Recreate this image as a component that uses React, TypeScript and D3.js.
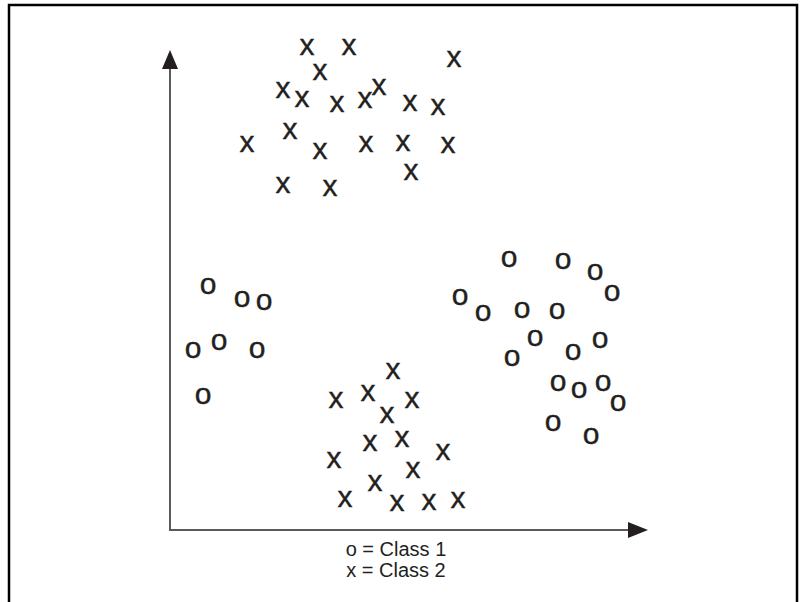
import React, { useEffect, useRef } from "react";
import * as d3 from "d3";

// feature space units (0..480 on both axes)
const class1Points: [number, number][] = [
  [38, 244], [72, 231], [94, 228], [23, 180], [49, 188], [87, 180], [33, 134],
  [339, 271], [393, 269], [425, 258], [442, 237], [290, 233], [313, 217],
  [352, 220], [387, 219], [365, 192], [430, 190], [342, 172], [403, 178],
  [388, 147], [409, 140], [433, 147], [448, 127], [383, 107], [421, 94],
];

const class2Points: [number, number][] = [
  [137, 483], [179, 483], [284, 471], [150, 458], [113, 440], [132, 431],
  [167, 426], [195, 430], [209, 443], [240, 427], [268, 423], [77, 386],
  [120, 399], [150, 379], [196, 386], [233, 387], [278, 385], [241, 358],
  [113, 345], [160, 342],
  [223, 159], [166, 130], [198, 137], [242, 130], [217, 115], [200, 87],
  [232, 91], [273, 78], [164, 70], [243, 60], [205, 47], [175, 31],
  [227, 27], [259, 28], [288, 30],
];

const classes = [
  { symbol: "o", name: "Class 1", points: class1Points },
  { symbol: "x", name: "Class 2", points: class2Points },
];

const App = () => {
  const ref = useRef<SVGSVGElement>(null);

  useEffect(() => {
    if (!ref.current) return;
    const width = 801, height = 602;
    const ink = "#231f20";
    const font = "'Liberation Sans', Arial, Helvetica, sans-serif";
    const markSize = 30;

    const svg = d3.select(ref.current)
      .attr("width", width)
      .attr("height", height);
    svg.selectAll("*").remove();

    const x = d3.scaleLinear().domain([0, 480]).range([170, 650]);
    const y = d3.scaleLinear().domain([0, 480]).range([530, 50]);

    // open frame (no bottom edge)
    svg.append("path")
      .attr("d", `M9,${height} V5 H797 V${height}`)
      .attr("fill", "none")
      .attr("stroke", "#000")
      .attr("stroke-width", 2.5);

    // axes
    svg.append("line")
      .attr("x1", x(0)).attr("x2", x(0))
      .attr("y1", y(0)).attr("y2", y(480) + 18)
      .attr("stroke", "#5a5a5a").attr("stroke-width", 2);
    svg.append("path")
      .attr("d", `M${x(0)},${y(480)} L${x(0) + 8},${y(480) + 19} L${x(0) - 8},${y(480) + 19} Z`)
      .attr("fill", ink);

    svg.append("line")
      .attr("x1", x(0) - 1).attr("x2", x(480) - 18)
      .attr("y1", y(0)).attr("y2", y(0))
      .attr("stroke", "#5a5a5a").attr("stroke-width", 2);
    svg.append("path")
      .attr("d", `M${x(480) - 2},${y(0)} L${x(480) - 22},${y(0) - 8} L${x(480) - 22},${y(0) + 8} Z`)
      .attr("fill", ink);

    // markers drawn as glyphs
    classes.forEach((c) => {
      svg.append("g")
        .selectAll("text")
        .data(c.points)
        .enter().append("text")
        .attr("x", (d) => x(d[0]))
        .attr("y", (d) => y(d[1]) + markSize * 0.26)
        .attr("text-anchor", "middle")
        .attr("font-family", font)
        .attr("font-size", markSize)
        .attr("fill", ink)
        .attr("stroke", ink)
        .attr("stroke-width", 0.4)
        .text(c.symbol);
    });

    // legend
    svg.append("g")
      .selectAll("text")
      .data(classes)
      .enter().append("text")
      .attr("x", 396)
      .attr("y", (_d, i) => 556 + i * 21)
      .attr("text-anchor", "middle")
      .attr("font-family", font)
      .attr("font-size", 20)
      .attr("fill", ink)
      .text((d) => `${d.symbol} = ${d.name}`);
  }, []);

  return (
    <svg ref={ref} style={{ position: "absolute", left: 0, top: 0, background: "#fff" }}></svg>
  );
};

export default App;
